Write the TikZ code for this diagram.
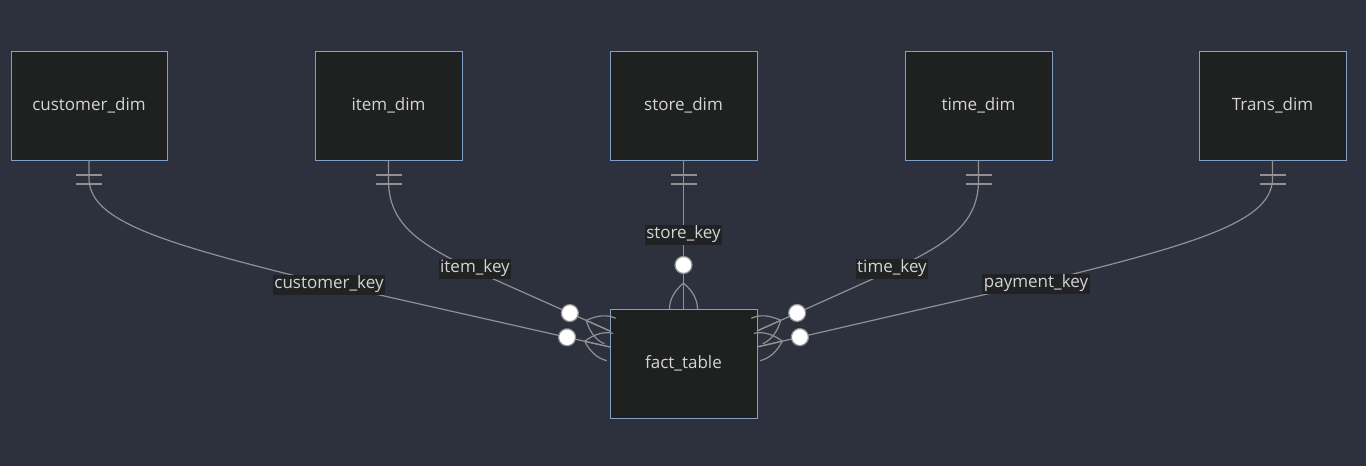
\documentclass[tikz,border=0pt]{standalone}
\usepackage{fontspec}
\setmainfont{Open Sans}
\usetikzlibrary{calc}
\definecolor{bgc}{RGB}{45,48,61}
\definecolor{boxc}{RGB}{31,32,32}
\definecolor{bordc}{RGB}{129,160,200}
\definecolor{txtc}{RGB}{212,212,212}
\definecolor{linec}{RGB}{145,145,145}
\definecolor{lblc}{RGB}{33,34,35}
\tikzset{
  ent/.style={draw=bordc, fill=boxc, line width=1pt, minimum width=147pt, minimum height=109pt,
    inner sep=0pt, outer sep=0pt, text=txtc, font=\fontsize{17}{19}\selectfont},
  edge/.style={draw=linec, line width=1.2pt},
  lbl/.style={fill=lblc, text=txtc, inner sep=1.5pt, minimum height=20pt, font=\fontsize{17}{19}\selectfont},
  pics/zmany/.style={code={
    \draw[edge] (26,0) -- (0,0);
    \draw[edge] (26,0) .. controls (18,9.33) and (9.33,14) .. (0,14);
    \draw[edge] (26,0) .. controls (18,-9.33) and (9.33,-14) .. (0,-14);
    \draw[edge, fill=white] (44,0) circle (8.5pt);
  }},
}
\newcommand{\onebar}[1]{%
  \draw[edge] ($(#1.south)+(-13,15)$) -- ++(26,0);
  \draw[edge] ($(#1.south)+(-13,24)$) -- ++(26,0);}
\newcommand{\zmark}[2]{%
  \path let \p1=($(#2)-(#1)$), \n1={atan2(\y1,\x1)} in pic[rotate=\n1] at (#1) {zmany};}
\begin{document}
\begin{tikzpicture}[x=1pt,y=-1pt]
\fill[bgc] (0,0) rectangle (1366,466);
\useasboundingbox (0,0) rectangle (1366,466);

\node[ent, minimum width=156pt] (cust) at (89,105.5) {customer\_dim};
\node[ent] (item) at (388.5,105.5) {item\_dim};
\node[ent] (store) at (683.5,105.5) {store\_dim};
\node[ent] (time) at (978.5,105.5) {time\_dim};
\node[ent] (trans) at (1272.5,105.5) {Trans\_dim};
\node[ent] (fact) at (683.5,363.5) {fact\_table};

\coordinate (fl1) at ($(fact.west)+(0,-32.5)$);
\coordinate (fl2) at ($(fact.west)+(0,-16.5)$);
\coordinate (fr1) at ($(fact.east)+(0,-32.5)$);
\coordinate (fr2) at ($(fact.east)+(0,-16.5)$);

\coordinate (pc) at (300,277);
\coordinate (pi) at (480,273);
\coordinate (pt) at (886,273);
\coordinate (pp) at (1061,277);

% edges
\draw[edge] (cust.south) -- ++(0,18) .. controls +(0,40) and (150,240) .. (pc) -- (fl2);
\draw[edge] (item.south) -- ++(0,20) .. controls +(0,45) and (420,245) .. (pi) -- (fl1);
\draw[edge] (store.south) -- (fact.north);
\draw[edge] (time.south) -- ++(0,20) .. controls +(0,45) and (946,245) .. (pt) -- (fr1);
\draw[edge] (trans.south) -- ++(0,18) .. controls +(0,40) and (1211,240) .. (pp) -- (fr2);

% one-only markers
\onebar{cust}
\onebar{item}
\onebar{store}
\onebar{time}
\onebar{trans}

% zero-or-many markers
\zmark{fl2}{pc}
\zmark{fl1}{pi}
\zmark{fact.north}{store.south}
\zmark{fr1}{pt}
\zmark{fr2}{pp}

% labels
\node[lbl] (lc) at (329,284.5) {customer\_key};
\node[lbl] (li) at (475,268.5) {item\_key};
\node[lbl] (ls) at (683.5,234.5) {store\_key};
\node[lbl] (lt) at (892,268.5) {time\_key};
\node[lbl] (lp) at (1036,283.5) {payment\_key};
\end{tikzpicture}
\end{document}
